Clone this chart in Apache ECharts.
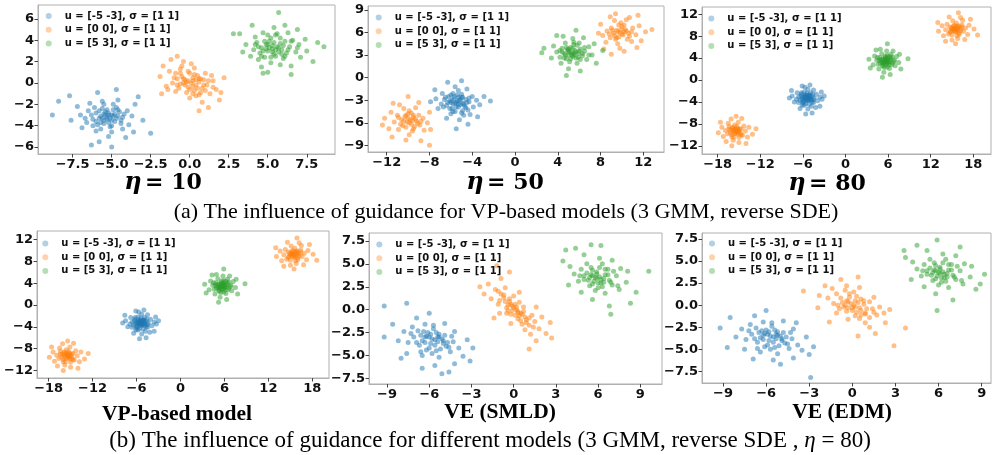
<!DOCTYPE html>
<html><head><meta charset="utf-8">
<script src="https://cdn.jsdelivr.net/npm/echarts@6/dist/echarts.min.js"></script>
<style>html,body{margin:0;padding:0;background:#fff}#c{width:992px;height:455px}</style>
</head><body><div id="c"></div>
<script>
// ---- legend / category names ----
const seriesNames = ['u = [-5 -3], σ = [1 1]', 'u = [0 0], σ = [1 1]', 'u = [5 3], σ = [1 1]'];
const panelTitles = ['η = 10', 'η = 50', 'η = 80', 'VP-based model', 'VE (SMLD)', 'VE (EDM)'];

// ---- tick labels ----
const xTicks1 = [-7.5, -5, -2.5, 0, 2.5, 5, 7.5];
const yTicks1 = [-6, -4, -2, 0, 2, 4, 6];
const xTicks2 = [-12, -8, -4, 0, 4, 8, 12];
const yTicks2 = [-9, -6, -3, 0, 3, 6, 9];
const xTicks3 = [-18, -12, -6, 0, 6, 12, 18];
const yTicks3 = [-12, -8, -4, 0, 4, 8, 12];
const xTicks5 = [-9, -6, -3, 0, 3, 6, 9];
const yTicks5 = [-7.5, -5, -2.5, 0, 2.5, 5, 7.5];

// ---- panel 1 (eta = 10) ----
const p1Blue = [[-5.3,-3.2],[-5.0,-3.0],[-5.7,-3.1],[-5.2,-3.7],[-5.5,-3.5],[-4.7,-3.3],[-6.0,-2.8],[-4.9,-2.5],[-5.6,-2.4],[-4.5,-2.7],[-6.2,-3.4],[-5.1,-4.1],[-5.9,-3.9],[-4.4,-3.8],[-4.8,-2.9],[-5.4,-2.7],[-5.8,-3.3],[-4.6,-3.1],[-5.3,-3.4],[-6.1,-2.3],[-5.0,-3.5],[-5.5,-2.9],[-4.7,-2.3],[-5.7,-3.7],[-5.2,-3.0],[-4.3,-3.2],[-6.5,-2.6],[-6.6,-3.7],[-4.0,-2.6],[-3.9,-3.9],[-5.0,-4.6],[-6.0,-4.5],[-5.6,-1.7],[-4.6,-1.6],[-7.0,-3.0],[-3.7,-3.1],[-4.3,-4.3],[-6.4,-1.9],[-5.2,-5.0],[-7.2,-2.2],[-3.5,-2.0],[-6.9,-4.2],[-4.1,-5.1],[-3.6,-4.6],[-5.8,-5.5],[-7.6,-3.5],[-5.9,-0.9],[-4.7,-0.6],[-8.8,-3.0],[-8.4,-1.7],[-2.5,-4.7],[-7.7,-1.2],[-3.3,-1.3],[-5.0,-6.0],[-6.3,-5.8],[-3.0,-3.5],
  [-5.1,-3.3],[-5.4,-3.0],[-5.6,-3.3],[-4.9,-3.1],[-5.2,-2.8],[-5.5,-3.8],[-4.8,-3.6],[-6.0,-3.6],[-5.8,-2.6],[-4.6,-2.5],[-5.3,-2.5],[-6.3,-3.0],[-4.4,-3.5],[-5.0,-4.0],[-5.7,-4.3],[-4.9,-2.0],[-6.2,-4.0],[-4.2,-2.9],[-5.5,-2.0],[-6.7,-3.3]];
const p1Orange = [[0.1,0.0],[0.4,-0.2],[-0.3,0.3],[0.2,0.5],[-0.1,-0.4],[0.6,0.1],[-0.5,0.6],[0.8,-0.5],[-0.6,-0.1],[0.3,-0.7],[0.0,0.9],[-0.8,0.4],[0.9,0.3],[-0.2,-0.9],[0.5,0.7],[-0.4,0.0],[0.7,-0.9],[-0.9,0.9],[0.2,0.2],[-0.2,0.1],[1.1,-0.2],[-1.1,0.0],[0.4,-1.2],[-0.6,1.3],[1.3,-1.0],[-1.3,1.1],[0.0,-1.4],[0.3,1.4],[1.5,0.2],[-1.5,-0.3],[1.0,0.9],[-0.9,-0.8],[1.7,-0.6],[-1.7,1.6],[0.8,-1.8],[-0.4,2.0],[2.0,-0.9],[-1.9,0.6],[1.2,-2.3],[-1.2,2.2],[2.2,0.5],[-1.8,-1.0],[0.6,-2.6],[-0.8,2.5],[1.9,-1.6],[-1.4,-0.6],[0.1,1.8],[0.6,0.4],[-0.7,-0.5],[1.4,0.7],
  [0.2,-0.3],[-0.1,0.2],[0.4,0.3],[-0.4,0.4],[0.5,-0.5],[0.0,-0.6],[-0.3,-0.2],[0.7,0.4],[0.3,0.8],[-0.6,0.9],[1.0,-0.7],[-0.1,1.1],[0.6,-1.1],[-1.0,0.5],[1.2,0.2],[0.9,-0.2],[-0.8,-0.2],[0.2,-1.0],[-0.5,1.6],[1.5,-0.4]];
const p1Green = [[5.3,3.2],[5.6,3.4],[5.0,3.0],[5.4,2.7],[4.9,3.6],[5.9,3.1],[5.1,3.9],[5.8,3.7],[4.6,3.3],[5.5,2.5],[6.2,2.8],[4.5,2.8],[5.2,4.2],[6.1,3.9],[4.8,2.4],[5.7,2.9],[5.3,3.5],[4.9,3.2],[6.4,3.4],[4.3,3.8],[5.0,4.5],[6.0,2.3],[4.4,2.2],[6.6,4.0],[5.6,4.6],[4.1,3.1],[6.8,2.9],[5.2,1.9],[4.7,4.7],[6.3,4.7],[3.9,2.5],[7.0,3.6],[5.8,1.7],[4.2,4.3],[7.1,2.4],[3.6,3.6],[6.5,1.6],[4.6,1.5],[5.4,5.2],[7.4,4.1],[3.4,2.9],[7.5,3.0],[6.1,5.4],[3.2,4.6],[8.2,3.8],[8.6,3.4],[5.0,1.0],[6.5,0.8],[2.8,4.6],[5.7,6.6],[7.9,2.0],[4.0,5.4],[6.9,5.0],[4.7,0.9],
  [5.5,3.1],[5.1,3.3],[5.7,3.3],[5.3,2.9],[5.0,3.6],[6.0,3.5],[4.7,3.0],[5.9,2.7],[5.4,3.8],[4.8,3.9],[6.3,3.1],[5.2,2.4],[4.4,3.4],[6.5,3.9],[5.8,4.2],[4.6,2.5],[6.1,2.5],[5.5,4.5],[4.2,3.6],[6.9,3.3]];

// ---- panel 2 (eta = 50) ----
const p2Blue = [[-5.5,-3.3],[-5.2,-3.0],[-5.8,-3.5],[-5.3,-3.9],[-5.7,-2.8],[-4.9,-3.4],[-6.1,-3.1],[-5.0,-2.6],[-5.9,-4.1],[-4.7,-3.8],[-6.2,-2.5],[-5.4,-2.3],[-4.6,-2.9],[-6.4,-3.7],[-5.6,-4.5],[-4.4,-4.3],[-5.1,-3.6],[-5.8,-2.1],[-6.6,-2.9],[-4.3,-3.2],[-5.3,-1.7],[-6.0,-4.8],[-4.8,-5.0],[-6.9,-3.5],[-4.0,-2.5],[-5.6,-1.2],[-6.8,-2.1],[-3.9,-3.9],[-7.2,-4.1],[-4.5,-1.5],[-3.6,-3.0],[-5.2,-5.6],[-6.4,-5.4],[-7.4,-2.8],[-4.2,-4.9],[-3.3,-3.6],[-6.3,-0.6],[-5.0,-0.4],[-7.9,-3.2],[-2.3,-3.1],[-4.4,-6.2],[-5.5,-6.8],[-2.9,-2.5],[-7.5,-1.6],[-3.5,-5.2],[-6.0,-3.3],[-5.0,-2.2],[-4.9,-4.4],
  [-5.4,-3.1],[-5.6,-3.4],[-5.3,-3.5],[-5.9,-3.0],[-5.1,-2.9],[-5.5,-3.9],[-4.8,-3.5],[-6.3,-3.3],[-5.7,-2.5],[-4.9,-2.6],[-6.1,-4.1],[-4.6,-4.0],[-5.3,-2.6],[-6.5,-2.6],[-5.0,-4.7],[-4.3,-2.7],[-6.0,-2.3],[-5.8,-4.5],[-4.5,-3.3],[-6.7,-3.9]];
const p2Orange = [[-9.8,-5.6],[-9.5,-5.3],[-10.1,-5.9],[-9.7,-6.2],[-10.3,-5.2],[-9.2,-5.8],[-10.0,-4.8],[-9.4,-6.5],[-10.6,-5.6],[-9.0,-5.0],[-10.5,-6.4],[-9.9,-4.4],[-8.9,-6.3],[-11.0,-5.0],[-9.6,-7.1],[-10.9,-6.9],[-8.6,-5.4],[-11.3,-5.9],[-9.3,-4.0],[-10.4,-4.1],[-8.5,-7.0],[-11.6,-4.6],[-9.9,-7.6],[-8.2,-6.0],[-11.8,-6.8],[-10.8,-3.6],[-9.0,-3.3],[-12.2,-5.4],[-8.0,-4.6],[-10.2,-8.3],[-11.5,-7.9],[-12.4,-6.3],[-8.8,-8.4],[-10.0,-2.5],[-7.9,-6.9],[-11.4,-3.4],[-8.0,-9.0],[-9.5,-5.0],[-10.2,-6.6],
  [-9.6,-5.7],[-10.0,-5.4],[-9.9,-6.0],[-9.3,-5.5],[-10.4,-5.8],[-9.5,-6.8],[-10.2,-5.0],[-9.1,-6.1],[-10.7,-6.2],[-9.7,-4.7],[-8.8,-5.8],[-10.9,-5.3],
  [9.8,6.0],[9.5,6.3],[10.1,5.7],[9.7,5.4],[10.3,6.4],[9.2,5.9],[10.0,6.8],[9.4,5.1],[10.6,5.9],[9.0,6.6],[10.5,5.1],[9.9,7.3],[8.9,5.3],[11.0,6.6],[9.6,4.5],[10.9,4.8],[8.6,6.2],[11.3,5.7],[9.3,7.6],[10.4,7.7],[8.5,4.7],[11.6,6.9],[9.8,3.9],[8.2,5.6],[11.8,4.9],[10.7,8.0],[8.9,8.1],[12.2,6.1],[8.0,7.1],[10.2,3.5],[11.4,4.0],[12.8,6.4],[8.3,3.8],[9.4,8.5],[7.8,5.9],[11.5,8.3],[9.0,3.1],[10.2,6.1],
  [9.6,6.1],[10.0,5.8],[9.9,6.4],[9.3,5.6],[10.4,6.2],[9.5,5.3],[10.2,7.0],[9.1,6.3],[10.7,5.5],[9.7,7.0],[8.8,5.8],[10.9,6.1]];
const p2Green = [[5.3,3.3],[5.6,3.6],[5.0,3.0],[5.4,2.8],[4.9,3.7],[5.9,3.2],[5.2,4.0],[5.7,2.6],[4.6,3.2],[6.1,3.8],[4.8,2.5],[5.5,4.4],[6.3,2.9],[4.4,3.9],[5.1,2.1],[6.0,4.6],[4.2,2.7],[6.5,3.5],[5.8,1.9],[4.7,4.6],[6.7,2.4],[3.9,3.4],[5.4,5.2],[4.3,1.9],[6.9,4.1],[3.6,4.2],[6.4,5.3],[5.0,1.2],[7.2,3.0],[3.4,2.6],[4.5,5.5],[7.4,4.5],[2.7,3.9],[6.1,0.9],[5.7,6.3],[8.2,3.6],[2.5,3.3],[4.8,0.3],[7.6,1.9],[3.9,5.6],[5.5,3.0],[5.0,3.5],
  [5.5,3.2],[5.1,3.4],[5.7,3.4],[5.3,3.0],[5.0,3.8],[6.0,3.5],[4.7,3.0],[5.9,2.7],[5.4,3.9],[4.8,4.0],[6.3,3.2],[5.2,2.5],[4.4,3.4],[6.5,4.0],[5.8,4.3],[4.6,2.6],[6.1,2.4],[5.5,4.7],[4.2,3.6],[6.9,3.0]];

// ---- panels 3 & 4 (eta = 80, VP-based model) ----
const p3Blue = [[-5.5,-3.3],[-5.2,-3.1],[-5.8,-3.5],[-5.3,-3.8],[-5.7,-2.9],[-5.0,-3.4],[-6.0,-3.1],[-5.1,-2.7],[-5.9,-4.0],[-4.8,-3.7],[-6.2,-2.6],[-5.4,-2.4],[-4.7,-3.0],[-6.4,-3.7],[-5.6,-4.3],[-4.5,-4.1],[-5.2,-3.6],[-5.8,-2.2],[-6.6,-3.1],[-4.4,-3.3],[-5.3,-1.7],[-6.1,-4.6],[-4.8,-4.8],[-6.9,-3.5],[-4.1,-2.6],[-5.7,-1.3],[-6.8,-2.3],[-3.9,-3.8],[-7.2,-4.0],[-4.5,-1.8],[-3.6,-3.1],[-5.3,-5.3],[-6.4,-5.2],[-7.5,-2.9],[-4.2,-5.0],[-3.3,-3.5],[-6.1,-1.1],[-5.0,-0.9],[-7.9,-3.3],[-3.0,-2.9],[-4.7,-6.0],[-5.6,-6.2],[-3.4,-2.2],[-7.6,-1.9],[-3.6,-4.8],[-5.5,-3.0],[-5.0,-3.0],[-6.0,-3.8],[-5.4,-3.6],[-4.9,-2.3],
  [-5.4,-3.2],[-5.6,-3.4],[-5.3,-3.4],[-5.8,-3.2],[-5.2,-3.3],[-5.5,-3.7],[-4.9,-3.5],[-6.1,-3.4],[-5.7,-2.7],[-5.0,-2.8],[-6.0,-4.2],[-4.7,-4.0],[-5.4,-2.8],[-6.3,-2.9],[-5.1,-4.4],[-4.6,-2.6],[-6.2,-2.3],[-5.8,-4.6],[-4.5,-3.6],[-6.6,-4.1],[-5.6,-3.1],[-5.3,-2.9]];
const p3Orange = [[-15.5,-9.2],[-15.2,-9.0],[-15.8,-9.4],[-15.4,-9.7],[-15.9,-8.8],[-15.0,-9.4],[-16.2,-9.1],[-15.3,-8.5],[-16.0,-10.0],[-14.8,-9.7],[-16.4,-8.5],[-15.6,-8.2],[-14.7,-8.9],[-16.6,-9.8],[-15.7,-10.4],[-14.5,-10.1],[-16.9,-9.2],[-14.3,-8.4],[-15.1,-7.7],[-16.5,-7.9],[-17.2,-10.3],[-14.1,-9.3],[-15.8,-11.0],[-16.1,-7.1],[-13.8,-10.4],[-17.4,-8.6],[-15.0,-11.4],[-13.6,-8.6],[-16.8,-11.2],[-14.6,-7.0],[-17.9,-9.6],[-13.1,-9.9],[-16.0,-12.0],[-15.4,-6.6],[-12.6,-8.9],[-17.6,-7.7],[-14.0,-11.6],[-15.5,-9.0],[-15.1,-9.9],
  [-15.4,-9.3],[-15.6,-9.0],[-15.3,-9.5],[-15.8,-9.1],[-15.1,-9.2],[-15.6,-9.8],[-14.9,-9.0],[-16.2,-9.6],[-15.9,-8.6],[-15.2,-8.8],[-16.0,-10.4],[-14.7,-10.0],[-16.4,-9.0],[-15.0,-10.5],
  [15.5,9.3],[15.2,9.5],[15.8,9.1],[15.4,8.8],[15.9,9.7],[15.0,9.1],[16.2,9.4],[15.3,10.0],[16.0,8.6],[14.8,8.9],[16.4,10.1],[15.6,10.4],[14.7,9.7],[16.6,8.9],[15.7,8.1],[14.5,8.4],[16.9,9.5],[14.3,10.2],[15.1,10.8],[16.5,10.9],[17.2,8.3],[14.1,9.2],[15.8,7.6],[16.2,11.4],[13.8,8.1],[17.4,10.0],[15.0,7.3],[13.6,9.9],[16.8,7.4],[14.6,11.5],[18.1,9.3],[13.1,8.9],[15.9,12.3],[15.5,6.6],[13.0,10.5],[17.6,11.1],[14.1,7.1],[18.6,8.2],[15.3,9.3],[15.7,9.8],
  [15.4,9.4],[15.6,9.2],[15.3,9.0],[15.8,9.5],[15.1,9.3],[15.6,8.8],[14.9,9.5],[16.2,9.0],[15.9,9.9],[15.2,9.8],[16.0,8.3],[14.7,8.7],[16.4,9.7],[15.0,8.2]];
const p3Green = [[5.7,3.5],[6.0,3.7],[5.4,3.3],[5.8,3.0],[5.3,3.9],[6.2,3.4],[5.6,4.1],[6.1,2.8],[5.0,3.5],[6.4,4.0],[5.2,2.7],[5.9,4.5],[6.6,3.1],[4.8,4.1],[5.5,2.3],[6.4,4.7],[4.6,2.9],[6.9,3.6],[6.2,2.1],[5.1,4.8],[7.0,2.6],[4.4,3.6],[5.8,5.3],[4.7,2.0],[7.2,4.3],[4.1,4.4],[6.7,5.3],[5.4,1.4],[7.5,3.2],[3.9,2.8],[4.9,5.6],[7.6,4.7],[3.3,3.8],[6.3,1.0],[5.9,6.6],[8.8,3.9],[3.5,2.2],[5.2,0.5],[7.8,2.0],[4.3,5.5],[5.7,3.8],[5.3,3.1],[6.0,3.2],
  [5.6,3.4],[5.8,3.6],[5.5,3.7],[6.0,3.3],[5.4,3.1],[5.9,4.1],[5.1,3.8],[6.3,3.7],[5.7,2.8],[5.2,3.2],[6.2,4.3],[4.9,3.1],[5.6,4.4],[6.5,2.8],[5.3,2.5],[4.8,3.6],[6.6,4.2],[5.9,2.4],[4.5,4.1],[6.8,3.4],[5.5,3.4],[5.8,3.9]];

// ---- panel 5 (VE SMLD) ----
const p5Blue = [[-5.8,-3.2],[-5.4,-3.5],[-6.2,-2.9],[-5.6,-3.9],[-6.1,-2.5],[-5.1,-3.2],[-6.5,-3.4],[-5.3,-2.7],[-6.0,-4.2],[-4.8,-4.0],[-6.8,-2.3],[-5.7,-2.1],[-4.9,-2.8],[-6.7,-3.9],[-5.8,-4.8],[-4.5,-4.6],[-7.1,-3.0],[-4.3,-3.5],[-6.3,-1.6],[-7.2,-1.9],[-5.3,-5.2],[-3.9,-4.2],[-7.5,-3.6],[-6.5,-5.0],[-4.2,-2.4],[-7.8,-2.4],[-4.9,-1.5],[-3.6,-5.1],[-6.9,-0.9],[-5.6,-6.1],[-8.2,-3.4],[-4.2,-5.9],[-3.3,-3.3],[-7.6,-4.8],[-6.0,-0.4],[-8.6,-1.6],[-3.1,-5.6],[-5.1,-7.0],[-9.2,0.4],[-7.6,0.7],[-2.9,-4.2],[-9.2,-3.0],[-6.5,-6.4],[-4.6,-6.8],[-5.4,-3.0],[-6.3,-3.6],[-5.0,-3.7],[-8.0,-5.3],
  [-5.6,-3.3],[-6.0,-3.0],[-5.9,-3.7],[-5.3,-3.0],[-6.3,-3.0],[-5.5,-2.5],[-6.4,-2.4],[-5.0,-3.4],[-6.6,-2.8],[-5.2,-4.3],[-6.2,-4.4],[-4.7,-3.6],[-6.9,-3.6],[-5.7,-1.7],[-4.6,-4.1],[-7.3,-2.6],[-5.5,-4.5],[-4.4,-2.9],[-6.6,-4.6],[-5.9,-2.7]];
const p5Orange = [[0.2,0.0],[0.5,-0.4],[-0.1,0.4],[0.3,-1.0],[-0.3,0.9],[0.7,-0.2],[-0.5,0.2],[0.9,-1.1],[-0.7,1.3],[0.1,0.6],[0.4,0.8],[-0.2,-0.5],[1.1,-1.7],[-0.9,1.7],[0.6,-1.6],[-0.4,-0.1],[1.3,-0.6],[-1.1,0.6],[0.0,1.5],[0.8,-2.2],[-1.3,2.2],[1.5,-1.3],[-0.6,2.4],[1.2,-2.7],[-1.6,1.2],[1.8,-2.1],[-0.2,-1.5],[-1.8,2.8],[2.0,-0.8],[0.4,1.9],[-1.0,-0.4],[2.3,-2.6],[-2.1,1.7],[1.6,-3.4],[-0.9,3.4],[2.6,-1.4],[-2.4,2.5],[1.1,-4.3],[-0.3,4.1],[-1.2,4.8],[2.7,-3.1],[1.6,0.3],[-1.4,-0.9],[0.3,-0.3],[-0.1,-0.1],
  [0.3,-0.2],[0.0,0.2],[0.4,-0.7],[-0.2,0.6],[0.6,-0.5],[-0.4,0.5],[0.8,-0.8],[-0.6,0.9],[0.2,0.3],[0.1,-0.6],[0.9,-1.4],[-0.7,1.6],[0.5,-1.2],[-0.3,1.2],[1.1,-0.9],[-1.0,1.0],[0.7,0.3],[-0.5,-0.4],[1.4,-1.9],[-1.1,2.0]];
const p5Green = [[5.8,3.5],[6.2,3.3],[5.5,3.8],[6.0,2.9],[5.3,3.2],[6.5,3.8],[5.6,4.3],[6.3,2.5],[5.0,3.7],[6.8,3.2],[5.4,2.6],[6.1,4.6],[7.0,2.7],[4.8,4.4],[5.8,2.1],[6.7,4.4],[4.6,3.1],[7.3,3.7],[6.5,1.8],[5.2,5.0],[7.5,2.2],[4.3,3.9],[6.1,5.6],[4.8,1.9],[7.6,4.5],[4.0,4.7],[7.0,5.4],[5.6,1.1],[8.0,3.0],[3.9,2.7],[5.0,6.0],[8.1,4.2],[3.5,5.3],[6.8,0.4],[5.5,7.1],[9.6,4.2],[3.7,6.5],[6.9,-0.5],[8.7,1.9],[4.4,6.7],[8.3,0.7],[6.2,7.0],[5.9,3.9],[6.4,3.0],
  [5.9,3.4],[5.6,3.7],[6.1,3.6],[5.7,3.1],[5.4,3.5],[6.4,3.4],[5.9,4.1],[6.2,2.9],[5.2,4.0],[6.7,3.8],[5.6,2.8],[6.5,4.4],[6.9,3.0],[5.0,3.3],[6.0,2.4],[5.5,4.6],[7.1,4.2],[4.7,3.7],[6.3,5.0],[7.4,2.6]];

// ---- panel 6 (VE EDM) ----
const p6Blue = [[-5.7,-3.5],[-5.3,-3.8],[-6.1,-3.2],[-5.5,-4.2],[-6.0,-2.8],[-5.0,-3.5],[-6.4,-3.7],[-5.2,-3.0],[-5.9,-4.5],[-4.7,-4.3],[-6.7,-2.6],[-5.6,-2.4],[-4.8,-3.1],[-6.6,-4.2],[-5.7,-5.0],[-4.4,-4.9],[-7.0,-3.3],[-4.2,-3.8],[-6.2,-1.9],[-7.1,-2.2],[-5.2,-5.5],[-3.8,-4.5],[-7.4,-3.9],[-6.4,-5.3],[-4.1,-2.7],[-7.7,-2.7],[-4.8,-1.8],[-3.5,-5.1],[-6.8,-1.2],[-5.5,-6.2],[-8.1,-3.6],[-4.1,-6.0],[-3.2,-3.6],[-7.5,-5.0],[-6.0,-0.6],[-8.5,-1.4],[-3.0,-5.6],[-5.0,-6.7],[-9.2,-2.6],[-2.7,-4.7],[-6.9,-6.1],[-2.9,-8.2],[-5.3,-3.3],[-6.2,-3.9],[-4.9,-4.0],[-8.7,-4.8],[-3.9,-2.0],
  [-5.5,-3.6],[-5.9,-3.3],[-5.8,-4.0],[-5.2,-3.4],[-6.2,-3.4],[-5.4,-2.8],[-6.3,-2.9],[-4.9,-3.8],[-6.5,-3.1],[-5.1,-4.6],[-6.1,-4.7],[-4.6,-3.6],[-6.8,-3.8],[-5.6,-2.0],[-4.5,-4.4],[-7.2,-2.9],[-5.4,-4.8],[-4.3,-3.1],[-6.6,-4.9],[-5.8,-3.0]];
const p6Orange = [[0.1,0.0],[0.5,-0.3],[-0.3,0.4],[0.3,-0.8],[-0.2,0.9],[0.8,0.1],[-0.6,-0.2],[0.9,-1.0],[-0.8,0.8],[0.2,0.5],[0.6,0.7],[-0.4,-0.7],[1.2,-1.4],[-1.1,1.3],[0.5,-1.5],[-0.5,0.0],[1.4,-0.4],[-1.3,0.2],[0.1,1.5],[0.9,-2.0],[-1.4,1.9],[1.7,-1.1],[-0.4,2.2],[1.2,-2.5],[-1.7,0.8],[1.9,-0.2],[-0.3,-1.6],[-1.9,2.2],[2.2,-0.9],[0.5,2.0],[-1.1,-0.9],[2.3,-2.0],[-2.3,1.1],[1.6,-3.2],[-0.8,2.9],[2.6,-0.5],[-2.4,-0.3],[0.4,-3.5],[0.4,3.2],[-3.4,1.6],[3.7,-2.6],[2.9,-4.6],[-1.6,-1.9],[1.5,0.9],[0.0,-0.3],
  [0.2,-0.2],[-0.1,0.2],[0.4,0.3],[-0.4,0.5],[0.6,-0.6],[0.0,-0.6],[-0.3,-0.3],[0.8,0.5],[0.3,1.0],[-0.7,0.3],[1.0,-0.4],[-0.2,1.3],[0.6,-1.1],[-1.0,0.0],[1.2,0.4],[0.9,-0.9],[-0.9,-0.4],[0.2,-1.2],[-0.5,1.7],[1.5,-0.8]];
const p6Green = [[6.0,3.7],[6.4,3.5],[5.7,4.0],[6.2,3.1],[5.5,3.4],[6.7,4.0],[5.8,4.5],[6.5,2.7],[5.2,3.9],[7.0,3.4],[5.6,2.8],[6.3,4.8],[7.2,2.9],[5.0,4.6],[6.0,2.3],[6.9,4.6],[4.8,3.3],[7.5,3.9],[6.7,2.0],[5.4,5.2],[7.7,2.4],[4.5,4.1],[6.3,5.8],[5.0,2.1],[7.8,4.7],[4.2,4.9],[7.2,5.6],[5.8,1.3],[8.2,3.2],[4.1,2.9],[5.2,6.2],[8.3,4.4],[3.7,5.4],[7.0,0.6],[5.9,7.4],[9.2,3.5],[3.6,6.2],[5.9,-0.6],[8.6,1.8],[4.5,6.8],[7.5,6.6],[6.1,4.1],[6.6,3.2],[8.9,2.4],
  [6.1,3.6],[5.8,3.9],[6.3,3.8],[5.9,3.3],[5.6,3.7],[6.6,3.6],[6.1,4.3],[6.4,3.1],[5.4,4.2],[6.9,4.0],[5.8,3.0],[6.7,4.6],[7.1,3.2],[5.2,3.5],[6.2,2.6],[5.7,4.8],[7.3,4.4],[4.9,3.9],[6.5,5.2],[7.6,2.8]];

const colors = ['#1f77b4', '#ff7f0e', '#2ca02c'];

// layout (pixels) for each panel
const panels = [
  {grid:{left:38, top:5, width:297, height:149}, x:[-9.72, 9.31], y:[-6.65, 7.3], xt:xTicks1, yt:yTicks1, xd:1, yd:0, data:[p1Blue,p1Orange,p1Green], leg:[45.7,10], title:[163,183]},
  {grid:{left:368, top:6, width:296, height:146}, x:[-13.75, 13.93], y:[-9.89, 9.53], xt:xTicks2, yt:yTicks2, xd:0, yd:0, data:[p2Blue,p2Orange,p2Green], leg:[375.7,11.5], title:[505,183]},
  {grid:{left:702, top:7, width:289, height:147}, x:[-20.2, 20.49], y:[-13.5, 13.33], xt:xTicks3, yt:yTicks3, xd:0, yd:0, data:[p3Blue,p3Orange,p3Green], leg:[708.3,12.5], title:[827,184]},
  {grid:{left:37, top:231, width:292, height:147}, x:[-19.59, 20.27], y:[-13.39, 13.57], xt:xTicks3, yt:yTicks3, xd:0, yd:0, data:[p3Blue,p3Orange,p3Green], leg:[42.3,237.5], title:[177,414]},
  {grid:{left:369, top:233, width:293, height:151}, x:[-10.28, 10.54], y:[-8.12, 8.37], xt:xTicks5, yt:yTicks5, xd:0, yd:1, data:[p5Blue,p5Orange,p5Green], leg:[376.3,238.5], title:[500,412]},
  {grid:{left:702, top:233, width:289, height:150}, x:[-10.46, 9.65], y:[-8.82, 8.18], xt:xTicks5, yt:yTicks5, xd:0, yd:1, data:[p6Blue,p6Orange,p6Green], leg:[709,237.5], title:[842,412]}
];

function fmt(v, d) {
  const s = Number(v).toFixed(d);
  return s.replace('-', '\u2212');
}
function axis(i, range, ticks, d) {
  return {
    type: 'value', gridIndex: i, min: range[0], max: range[1],
    axisLine: {show: true, onZero: false, lineStyle: {color: '#b0b0b0', width: 1}},
    axisTick: {show: true, customValues: ticks, length: 3.5, lineStyle: {color: '#444', width: 1}},
    axisLabel: {customValues: ticks, formatter: v => fmt(v, d), fontFamily: 'DejaVu Sans', fontWeight: 'bold', fontSize: 13, color: '#111', margin: 4},
    splitLine: {show: false}
  };
}

const option = {
  animation: false,
  backgroundColor: '#fff',
  grid: [], xAxis: [], yAxis: [], series: [], legend: [], graphic: []
};

panels.forEach((p, i) => {
  option.grid.push(Object.assign({show: true, borderColor: '#b0b0b0', borderWidth: 1, backgroundColor: '#fff', containLabel: false}, p.grid));
  option.xAxis.push(axis(i, p.x, p.xt, p.xd));
  option.yAxis.push(axis(i, p.y, p.yt, p.yd));
  p.data.forEach((arr, k) => {
    option.series.push({
      type: 'scatter', name: seriesNames[k], xAxisIndex: i, yAxisIndex: i, data: arr,
      symbol: 'circle', symbolSize: 5, silent: true,
      itemStyle: {color: colors[k], opacity: 0.5}
    });
  });
  option.legend.push({
    data: seriesNames, orient: 'vertical', left: p.leg[0], top: p.leg[1], padding: 0,
    itemWidth: 22, itemHeight: 6, itemGap: 1.7, icon: 'circle', selectedMode: false,
    itemStyle: {opacity: 0.35},
    textStyle: {fontFamily: 'DejaVu Sans', fontWeight: 'bold', fontSize: 10, color: '#111', lineHeight: 12}
  });
  const t = panelTitles[i];
  option.graphic.push({
    type: 'text', x: p.title[0], y: p.title[1], silent: true,
    style: i < 3 ? {
      text: '{g|η} {n|' + t.slice(2) + '}', align: 'center', verticalAlign: 'middle',
      rich: {g: {fontFamily: 'DejaVu Serif', fontStyle: 'italic', fontWeight: 'bold', fontSize: 24, fill: '#000'},
             n: {fontFamily: 'DejaVu Serif', fontWeight: 'bold', fontSize: 22, fill: '#000'}}
    } : {
      text: t, align: 'center', verticalAlign: 'middle', fontFamily: 'Liberation Serif', fontWeight: 'bold', fontSize: 21.5, fill: '#000'
    }
  });
});

option.graphic.push({
  type: 'text', x: 506, y: 212, silent: true,
  style: {text: '(a) The influence of guidance for VP-based models (3 GMM, reverse SDE)', align: 'center', verticalAlign: 'middle', fontFamily: 'Liberation Serif', fontSize: 22, fill: '#000'}
});
option.graphic.push({
  type: 'text', x: 490, y: 441, silent: true,
  style: {text: '(b) The influence of guidance for different models (3 GMM, reverse SDE , {i|η} = 80)', align: 'center', verticalAlign: 'middle', fontFamily: 'Liberation Serif', fontSize: 23, fill: '#000',
    rich: {i: {fontFamily: 'Liberation Serif', fontStyle: 'italic', fontSize: 23, fill: '#000'}}}
});

const chart = echarts.init(document.getElementById('c'), null, {renderer: 'canvas'});
chart.setOption(option);
</script></body></html>
